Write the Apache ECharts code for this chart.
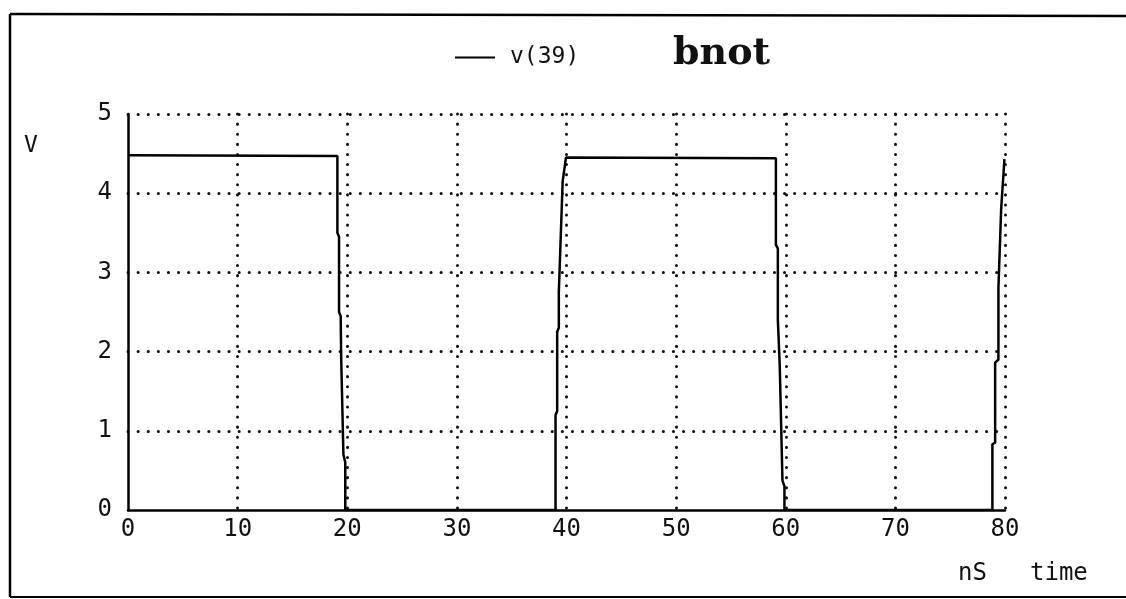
<!DOCTYPE html>
<html>
<head>
<meta charset="utf-8">
<script src="https://cdn.jsdelivr.net/npm/echarts@6/dist/echarts.min.js"></script>
<style>
html,body{margin:0;padding:0;background:#fff;}
#chart{width:1126px;height:599px;}
</style>
</head>
<body>
<div id="chart"></div>
<script>
// ---- data (time in nS, voltage in V) ----
var seriesName = 'v(39)';
var chartTitle = 'bnot';
var timeNs = [0, 19.1, 19.1, 19.25, 19.25, 19.4, 19.45, 19.65, 19.82, 19.82,
              39.0, 39.0, 39.15, 39.15, 39.3, 39.3, 39.65, 39.95,
              59.1, 59.1, 59.28, 59.28, 59.45, 59.7, 59.88, 59.88,
              78.85, 78.85, 79.1, 79.1, 79.4, 79.4, 79.65, 79.95, 80];
var voltV  = [4.48, 4.47, 3.5, 3.45, 2.5, 2.45, 1.9, 0.7, 0.6, 0,
              0, 1.2, 1.25, 2.25, 2.3, 2.75, 4.15, 4.45,
              4.44, 3.35, 3.3, 2.4, 1.83, 0.37, 0.3, 0,
              0, 0.83, 0.85, 1.86, 1.9, 2.8, 3.8, 4.43, 4.43];
var xTicks = [0, 10, 20, 30, 40, 50, 60, 70, 80];
var yTicks = [0, 1, 2, 3, 4, 5];
var xUnit = 'nS';
var xName = 'time';
var yName = 'V';

var points = timeNs.map(function (t, i) { return [t, voltV[i]]; });
var mono = 'DejaVu Sans Mono';
var dotted = { color: '#111', width: 3, type: [0.1, 10], cap: 'round' };

var chart = echarts.init(document.getElementById('chart'));
chart.setOption({
  backgroundColor: '#fff',
  animation: false,
  title: {
    text: chartTitle,
    left: 668, top: 30,
    textStyle: { fontFamily: 'DejaVu Serif', fontWeight: 'bold', fontSize: 38, color: '#111' }
  },
  legend: {
    left: 450, top: 41,
    icon: 'rect', itemWidth: 40, itemHeight: 2,
    data: [seriesName],
    textStyle: { fontFamily: mono, fontSize: 23, color: '#111', padding: [0, 0, 0, 10] }
  },
  grid: { left: 128, right: 121, top: 114, bottom: 89 },
  xAxis: {
    type: 'value', min: xTicks[0], max: xTicks[xTicks.length - 1], interval: 10,
    axisLine: { show: true, onZero: false, lineStyle: { color: '#000', width: 2.5 } },
    axisTick: { show: false },
    axisLabel: { color: '#111', fontFamily: mono, fontSize: 24, margin: 8,
      formatter: function (v) { return xTicks.indexOf(v) >= 0 ? String(v) : ''; } },
    splitLine: { show: true, showMinLine: false, showMaxLine: true, lineStyle: dotted }
  },
  yAxis: {
    type: 'value', min: yTicks[0], max: yTicks[yTicks.length - 1], interval: 1,
    axisLine: { show: true, onZero: false, lineStyle: { color: '#000', width: 2.5 } },
    axisTick: { show: false },
    axisLabel: { color: '#111', fontFamily: mono, fontSize: 24, margin: 16 },
    splitLine: { show: true, showMinLine: false, showMaxLine: true, lineStyle: dotted }
  },
  series: [{
    name: seriesName,
    type: 'line',
    data: points,
    showSymbol: false,
    symbol: 'none',
    lineStyle: { color: '#000', width: 2.5 },
    itemStyle: { color: '#000' },
    z: 5
  }],
  graphic: [
    { type: 'line', shape: { x1: 10, y1: 14, x2: 1126, y2: 16 }, style: { stroke: '#000', lineWidth: 2.5 } },
    { type: 'line', shape: { x1: 10, y1: 14, x2: 10, y2: 597 }, style: { stroke: '#000', lineWidth: 2.5 } },
    { type: 'line', shape: { x1: 10, y1: 597, x2: 1126, y2: 597 }, style: { stroke: '#000', lineWidth: 2 } },
    { type: 'text', left: 24, top: 135, style: { text: yName, font: '23px "DejaVu Sans Mono"', fill: '#111' } },
    { type: 'text', left: 958, top: 562, style: { text: xUnit, font: '24px "DejaVu Sans Mono"', fill: '#111' } },
    { type: 'text', left: 1030, top: 562, style: { text: xName, font: '24px "DejaVu Sans Mono"', fill: '#111' } }
  ]
});
</script>
</body>
</html>
